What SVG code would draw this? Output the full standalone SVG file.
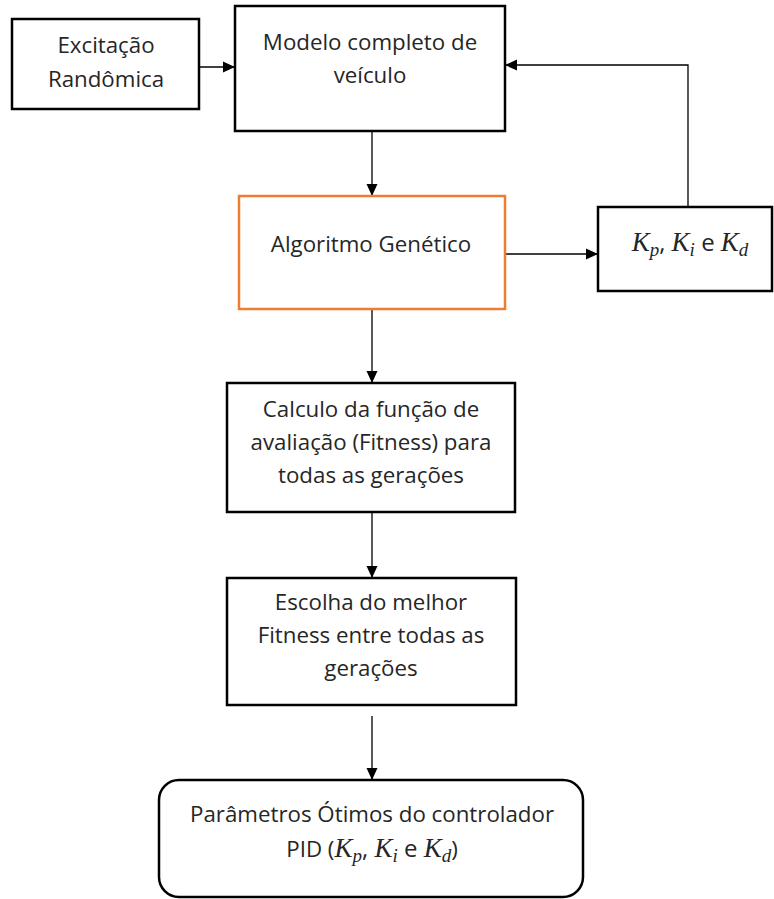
<svg xmlns="http://www.w3.org/2000/svg" width="774" height="899" viewBox="0 0 774 899">
  <defs>
    <marker id="arrow" markerUnits="userSpaceOnUse" markerWidth="12" markerHeight="12" viewBox="0 0 12 12" refX="12" refY="6" orient="auto">
      <path d="M0,0.5 L12,6 L0,11.5 Z" fill="#000"/>
    </marker>
  </defs>
  <style>
    .box { fill: #fff; stroke: #000; stroke-width: 2.5; }
    .ga { fill: #fff; stroke: #ED7D31; stroke-width: 2.5; }
    .lbl { font-family: "Open Sans", "Liberation Sans", sans-serif; font-size: 22.3px; fill: #262626; text-anchor: middle; }
    .m { font-family: "Liberation Serif", "DejaVu Serif", serif; font-style: italic; font-size: 27px; }
    .sub { font-size: 19px; }
    .up { font-family: "Open Sans", "Liberation Sans", sans-serif; font-style: normal; font-size: 24px; }
    .wire { fill: none; stroke: #000; stroke-width: 1.3; }
  </style>
  <rect width="774" height="899" fill="#fff"/>

  <g id="connectors">
    <path class="wire" d="M199,67 H235" marker-end="url(#arrow)"/>
    <path class="wire" d="M372,131 V196" marker-end="url(#arrow)"/>
    <path class="wire" d="M505,254 H598" marker-end="url(#arrow)"/>
    <path class="wire" d="M688,207 V65 H505" marker-end="url(#arrow)"/>
    <path class="wire" d="M372,309 V383" marker-end="url(#arrow)"/>
    <path class="wire" d="M372,512 V578" marker-end="url(#arrow)"/>
    <path class="wire" d="M372,716 V780" marker-end="url(#arrow)"/>
  </g>

  <g id="excitacao">
    <rect class="box" x="12" y="19" width="187" height="90"/>
    <text class="lbl" x="106" y="53">Excitação</text>
    <text class="lbl" x="106" y="87">Randômica</text>
  </g>

  <g id="modelo">
    <rect class="box" x="235" y="6" width="270" height="125"/>
    <text class="lbl" x="370" y="50">Modelo completo de</text>
    <text class="lbl" x="370" y="83">veículo</text>
  </g>

  <g id="algoritmo">
    <rect class="ga" x="239" y="196" width="266" height="113"/>
    <text class="lbl" x="371" y="252">Algoritmo Genético</text>
  </g>

  <g id="ganhos">
    <rect class="box" x="598" y="207" width="174" height="84"/>
    <text class="lbl" x="690" y="251"><tspan class="m">K</tspan><tspan class="m sub" dy="5">p</tspan><tspan class="up" dy="-5">, </tspan><tspan class="m">K</tspan><tspan class="m sub" dy="5">i</tspan><tspan class="up" dy="-5"> e </tspan><tspan class="m">K</tspan><tspan class="m sub" dy="5">d</tspan></text>
  </g>

  <g id="fitness">
    <rect class="box" x="227" y="383" width="288" height="129"/>
    <text class="lbl" x="371" y="417">Calculo da função de</text>
    <text class="lbl" x="371" y="450">avaliação (Fitness) para</text>
    <text class="lbl" x="371" y="483">todas as gerações</text>
  </g>

  <g id="escolha">
    <rect class="box" x="227" y="578" width="289" height="127"/>
    <text class="lbl" x="371" y="610">Escolha do melhor</text>
    <text class="lbl" x="371" y="643">Fitness entre todas as</text>
    <text class="lbl" x="371" y="676">gerações</text>
  </g>

  <g id="parametros">
    <rect class="box" x="159" y="780" width="424" height="117" rx="20" ry="20"/>
    <text class="lbl" x="372" y="822">Parâmetros Ótimos do controlador</text>
    <text class="lbl" x="372" y="857">PID (<tspan class="m">K</tspan><tspan class="m sub" dy="5">p</tspan><tspan class="up" dy="-5">, </tspan><tspan class="m">K</tspan><tspan class="m sub" dy="5">i</tspan><tspan class="up" dy="-5"> e </tspan><tspan class="m">K</tspan><tspan class="m sub" dy="5">d</tspan><tspan dy="-5">)</tspan></text>
  </g>
</svg>
